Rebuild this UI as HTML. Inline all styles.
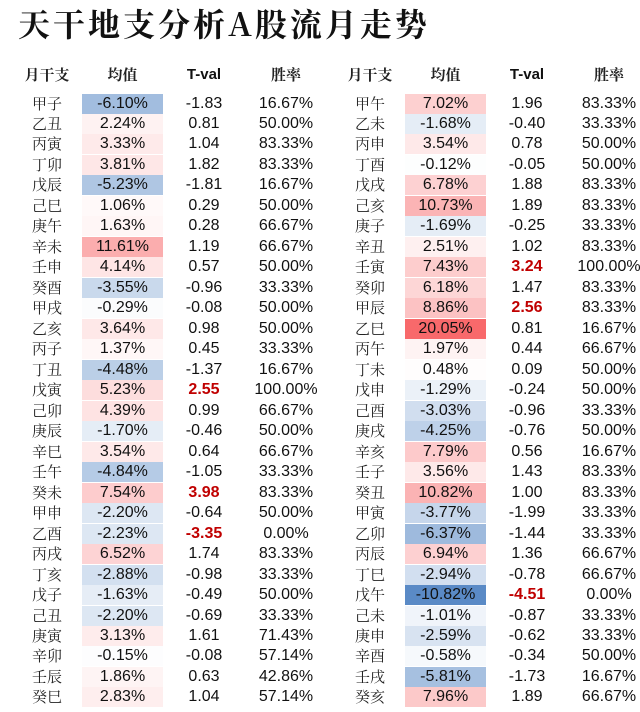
<!DOCTYPE html>
<html><head><meta charset="utf-8">
<style>
body{margin:0;width:640px;height:712px;background:#fff;overflow:hidden;font-family:"Liberation Sans","Noto Sans CJK SC",sans-serif;position:relative}
.t{position:absolute;left:18px;top:0px;font-family:"Noto Serif CJK SC",serif;font-weight:bold;font-size:32px;letter-spacing:3px;color:#111}
.c{position:absolute;text-align:center;font-size:16px;color:#111;line-height:20px;height:20px}
.h{font-weight:bold;font-size:15px}
.lab{font-family:"Noto Serif CJK SC",serif;font-size:15px;color:#222}
.sig{color:#c00000;font-weight:bold}
</style></head><body>
<div class="t">天干地支分析A股流月走势</div>
<div id="tbl"></div>
<script>
const labelsL=["甲子","乙丑","丙寅","丁卯","戊辰","己巳","庚午","辛未","壬申","癸酉","甲戌","乙亥","丙子","丁丑","戊寅","己卯","庚辰","辛巳","壬午","癸未","甲申","乙酉","丙戌","丁亥","戊子","己丑","庚寅","辛卯","壬辰","癸巳"];
const meanL=[-6.10,2.24,3.33,3.81,-5.23,1.06,1.63,11.61,4.14,-3.55,-0.29,3.64,1.37,-4.48,5.23,4.39,-1.70,3.54,-4.84,7.54,-2.20,-2.23,6.52,-2.88,-1.63,-2.20,3.13,-0.15,1.86,2.83];
const tvalL=[-1.83,0.81,1.04,1.82,-1.81,0.29,0.28,1.19,0.57,-0.96,-0.08,0.98,0.45,-1.37,2.55,0.99,-0.46,0.64,-1.05,3.98,-0.64,-3.35,1.74,-0.98,-0.49,-0.69,1.61,-0.08,0.63,1.04];
const winL=[16.67,50.00,83.33,83.33,16.67,50.00,66.67,66.67,50.00,33.33,50.00,50.00,33.33,16.67,100.00,66.67,50.00,66.67,33.33,83.33,50.00,0.00,83.33,33.33,50.00,33.33,71.43,57.14,42.86,57.14];
const labelsR=["甲午","乙未","丙申","丁酉","戊戌","己亥","庚子","辛丑","壬寅","癸卯","甲辰","乙巳","丙午","丁未","戊申","己酉","庚戌","辛亥","壬子","癸丑","甲寅","乙卯","丙辰","丁巳","戊午","己未","庚申","辛酉","壬戌","癸亥"];
const meanR=[7.02,-1.68,3.54,-0.12,6.78,10.73,-1.69,2.51,7.43,6.18,8.86,20.05,1.97,0.48,-1.29,-3.03,-4.25,7.79,3.56,10.82,-3.77,-6.37,6.94,-2.94,-10.82,-1.01,-2.59,-0.58,-5.81,7.96];
const tvalR=[1.96,-0.40,0.78,-0.05,1.88,1.89,-0.25,1.02,3.24,1.47,2.56,0.81,0.44,0.09,-0.24,-0.96,-0.76,0.56,1.43,1.00,-1.99,-1.44,1.36,-0.78,-4.51,-0.87,-0.62,-0.34,-1.73,1.89];
const winR=[83.33,33.33,50.00,50.00,83.33,83.33,33.33,83.33,100.00,83.33,83.33,16.67,66.67,50.00,50.00,33.33,50.00,16.67,83.33,83.33,33.33,33.33,66.67,66.67,0.00,33.33,33.33,50.00,16.67,66.67];
const headers=["月干支","均值","T-val","胜率"];
const all=meanL.concat(meanR),mn=Math.min(...all),mx=Math.max(...all);
function color(v){let a,c;if(v<0){a=v/mn;c=[90,138,198];}else{a=Math.pow(v/mx,1.1);c=[248,105,107];}
 const m=k=>Math.round(255*(1-a)+c[k]*a);return `rgb(${m(0)},${m(1)},${m(2)})`;}
const tbl=document.getElementById('tbl');
function cell(x,y,w,txt,cls,name,bg){const d=document.createElement('div');d.className='c '+(cls||'');
 d.style.left=x+'px';d.style.top=y+'px';d.style.width=w+'px';d.textContent=txt;if(bg)d.style.background=bg;
 
 
 tbl.appendChild(d);}
function table(x0,labels,mean,tval,win,side){
 const cols=[[x0,66],[x0+68,81],[x0+150,80],[x0+236,72]];
 headers.forEach((h,i)=>cell(cols[i][0],65,cols[i][1],h,'h'+(i!=2?' lab':''),side+'-header-'+i));
 const y0=93.5,p=20.48;
 labels.forEach((l,i)=>{const y=y0+i*p;
  cell(cols[0][0],y,cols[0][1],l,'lab',side+'-label-'+i);
  cell(cols[1][0],y,cols[1][1],mean[i].toFixed(2)+'%','',side+'-mean-'+i,color(mean[i]));
  cell(cols[2][0],y,cols[2][1],tval[i].toFixed(2),Math.abs(tval[i])>=2.5?'sig':'',side+'-tval-'+i);
  cell(cols[3][0],y,cols[3][1],win[i].toFixed(2)+'%','',side+'-winrate-'+i);});
}
table(14,labelsL,meanL,tvalL,winL,'left');
table(337,labelsR,meanR,tvalR,winR,'right');
</script>
</body></html>
